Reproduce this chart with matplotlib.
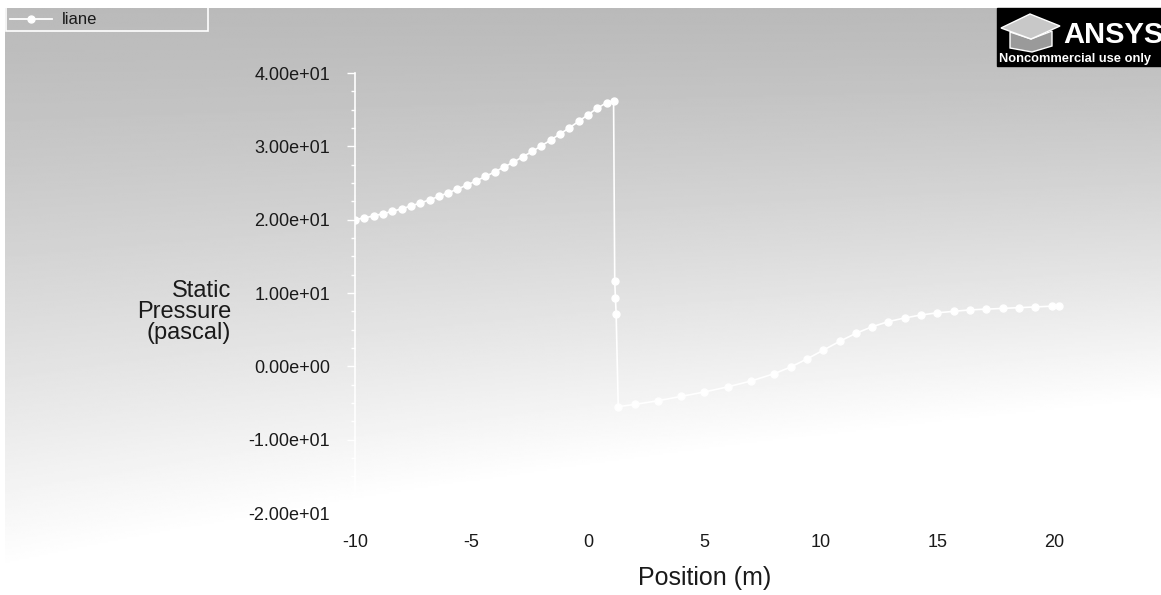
import numpy as np
import matplotlib.pyplot as plt
from matplotlib.patches import Rectangle, Polygon
from matplotlib.lines import Line2D
from matplotlib.ticker import MultipleLocator

plt.rcParams['axes.unicode_minus'] = False

# --- Data ---
# upstream segment: pressure build-up before the step
x_up = [-10.0, -9.6, -9.2, -8.8, -8.4, -8.0, -7.6, -7.2, -6.8, -6.4,
        -6.0, -5.6, -5.2, -4.8, -4.4, -4.0, -3.6, -3.2, -2.8, -2.4,
        -2.0, -1.6, -1.2, -0.8, -0.4, 0.0, 0.4, 0.8, 1.1]
p_up = [20.0, 20.24, 20.51, 20.81, 21.13, 21.48, 21.86, 22.27, 22.71, 23.17,
        23.66, 24.17, 24.72, 25.29, 25.89, 26.52, 27.17, 27.85, 28.56, 29.30,
        30.06, 30.86, 31.68, 32.52, 33.40, 34.30, 35.20, 35.95, 36.2]
# sharp drop at the step
x_drop = [1.15, 1.18, 1.21]
p_drop = [11.6, 9.3, 7.2]
# downstream recovery
x_down = [1.3, 2.0, 3.0, 4.0, 5.0, 6.0, 7.0, 8.0, 8.7, 9.4, 10.1, 10.8,
          11.5, 12.2, 12.9, 13.6, 14.3, 15.0, 15.7, 16.4, 17.1, 17.8,
          18.5, 19.2, 19.9, 20.2]
p_down = [-5.5, -5.2, -4.7, -4.1, -3.5, -2.8, -2.0, -1.0, -0.1, 1.0, 2.2, 3.4,
          4.5, 5.4, 6.1, 6.6, 7.0, 7.3, 7.5, 7.7, 7.8, 7.9,
          8.0, 8.1, 8.2, 8.2]

y_ticks = [-20, -10, 0, 10, 20, 30, 40]
x_ticks = [-10, -5, 0, 5, 10, 15, 20]

W, H = 1161, 595
fig = plt.figure(figsize=(W / 100, H / 100), dpi=100)
fig.patch.set_facecolor('white')

# --- grey screen-grab background (light towards the bottom, more so on the right) ---
bg_ax = fig.add_axes([5 / W, 0, 1 - 5 / W, 1 - 8 / H])
bg_ax.set_axis_off()
yy, xx = np.mgrid[0:1:300j, 0:1:600j]
s = yy ** 1.2 * (0.95 + 0.5 * xx)
bg = np.clip(0.73 + 0.30 * s, 0, 1)
bg_ax.imshow(bg, cmap='gray', vmin=0, vmax=1, aspect='auto',
             interpolation='bilinear', extent=[0, 1, 0, 1])

# --- main plot ---
ax = fig.add_axes([355 / W, 1 - 513 / H, 1 - 355 / W, (513 - 73) / H])
ax.set_facecolor('none')
x_all = x_up + x_drop + x_down
p_all = p_up + p_drop + p_down
ax.plot(x_all, p_all, color='white', lw=1.2, marker='o', ms=5,
        mec='white', mfc='white', zorder=3)

ax.set_xlim(-10, 24.6)
ax.set_ylim(-20, 40)
ax.set_xticks(x_ticks)
ax.set_yticks(y_ticks)
ax.set_yticklabels([f"{v:.2e}" for v in y_ticks])
ax.yaxis.set_minor_locator(MultipleLocator(2.5))

for side in ['top', 'right']:
    ax.spines[side].set_visible(False)
ax.spines['left'].set_color('white')
ax.spines['left'].set_linewidth(1.2)
ax.spines['bottom'].set_color('white')
ax.spines['bottom'].set_linewidth(1.2)

ax.tick_params(axis='y', which='major', colors='white', length=6, width=1,
               pad=12, labelcolor='#1a1a1a', labelsize=13)
ax.tick_params(axis='y', which='minor', colors='white', length=3, width=1)
ax.tick_params(axis='x', which='major', length=0, pad=15,
               labelcolor='#1a1a1a', labelsize=13)
for lab in ax.get_xticklabels() + ax.get_yticklabels():
    lab.set_family('Liberation Sans')

fig.text(705 / W, 1 - 578 / H, 'Position (m)', ha='center', va='center',
         fontsize=18, color='#1a1a1a', family='Liberation Sans')
fig.text(231 / W, 1 - 312 / H, 'Static\nPressure\n(pascal)', ha='right',
         va='center', fontsize=17, color='#1a1a1a', linespacing=0.92,
         family='Liberation Sans')

# --- legend box (top-left) ---
fig.patches.append(Rectangle((6 / W, 1 - 31 / H), 202 / W, 24 / H,
                             transform=fig.transFigure, fill=False,
                             ec='white', lw=1.2))
fig.lines.append(Line2D([10 / W, 52 / W], [1 - 19 / H, 1 - 19 / H],
                        transform=fig.transFigure, color='white', lw=1.3))
fig.lines.append(Line2D([31 / W], [1 - 19 / H], transform=fig.transFigure,
                        color='white', marker='o', ms=5))
fig.text(62 / W, 1 - 19 / H, 'liane', ha='left', va='center', fontsize=12,
         color='#1a1a1a', family='Liberation Sans')

# --- ANSYS watermark ---
fig.patches.append(Rectangle((997 / W, 1 - 66 / H), (W - 997) / W, 58 / H,
                             transform=fig.transFigure, color='black'))
cap_top = [(1001, 28), (1030, 14), (1060, 26), (1031, 39)]
cap_body = [(1010, 32), (1010, 48), (1032, 52), (1052, 46), (1052, 31), (1031, 39)]
for pts, fc in [(cap_body, '#9a9a9a'), (cap_top, '#c8c8c8')]:
    fig.patches.append(Polygon([(px / W, 1 - py / H) for px, py in pts],
                               closed=True, transform=fig.transFigure,
                               fc=fc, ec='white', lw=1))
fig.text(1063 / W, 1 - 35 / H, 'ANSYS', ha='left', va='center', fontsize=21,
         fontweight='bold', color='white', family='Liberation Sans')
fig.text(999 / W, 1 - 59 / H, 'Noncommercial use only', ha='left',
         va='center', fontsize=9.3, fontweight='bold', color='white',
         family='Liberation Sans')

fig.savefig('out.png', dpi=100, facecolor='white')
